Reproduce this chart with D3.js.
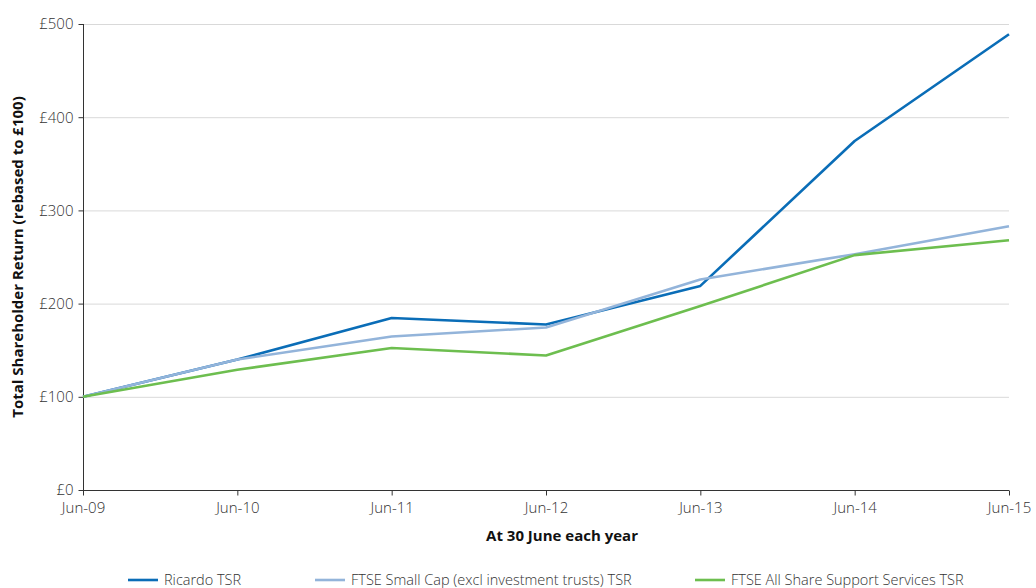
<!DOCTYPE html>
<html><head><meta charset="utf-8">
<script src="https://cdnjs.cloudflare.com/ajax/libs/d3/7.8.5/d3.min.js"></script>
<style>body{margin:0;background:#fff;} svg{display:block;font-family:"Open Sans",sans-serif;}</style>
</head><body><svg id="c" width="1036" height="588"></svg>
<script>
const categories = ["Jun-09","Jun-10","Jun-11","Jun-12","Jun-13","Jun-14","Jun-15"];
const ricardo = [100, 140, 184.5, 177.6, 219, 374.5, 489];
const smallCap = [100, 140, 164.7, 174.4, 225.9, 253, 283];
const support = [100, 129, 152.4, 144.3, 197.4, 252, 268];
const yTicks = [0, 100, 200, 300, 400, 500];
const seriesNames = ["Ricardo TSR", "FTSE Small Cap (excl investment trusts) TSR", "FTSE All Share Support Services TSR"];
const colors = ["#0a6db7", "#93b4da", "#6dbe4f"];

const svg = d3.select("#c");
const m = {l:83, r:1009, t:24, b:490};
const x = d3.scalePoint().domain(categories).range([m.l, m.r]);
const y = d3.scaleLinear().domain([0,500]).range([m.b, m.t]);

// gridlines
svg.append("g").selectAll("line").data(yTicks.filter(d=>d>0)).join("line")
  .attr("x1", m.l).attr("x2", m.r).attr("y1", d=>y(d)+0.5).attr("y2", d=>y(d)+0.5)
  .attr("stroke", "#d9d9d9").attr("stroke-width", 1);

// y axis
const ya = svg.append("g").attr("transform", `translate(${m.l+0.5},0)`)
  .call(d3.axisLeft(y).tickValues(yTicks).tickSize(5).tickPadding(5).tickFormat(d=>"£"+d));
ya.select(".domain").attr("stroke","#333").attr("d", `M0,${m.t}V${m.b}`);
ya.selectAll(".tick line").attr("stroke","#333");
ya.selectAll("text").attr("font-size", 15).attr("fill","#333").attr("font-family","Open Sans").attr("font-weight", 300);

// x axis
const xa = svg.append("g").attr("transform", `translate(0,${m.b+0.5})`)
  .call(d3.axisBottom(x).tickSize(5).tickPadding(7));
xa.select(".domain").attr("stroke","#333").attr("d", `M${m.l},0H${m.r}`);
xa.selectAll(".tick line").attr("stroke","#333");
xa.selectAll("text").attr("font-size", 15).attr("fill","#333").attr("font-family","Open Sans").attr("font-weight", 300);

// lines
const line = d3.line().x((d,i)=>x(categories[i])).y(d=>y(d));
[ricardo, smallCap, support].forEach((s,i)=>{
  svg.append("path").datum(s).attr("d", line).attr("fill","none")
    .attr("stroke", colors[i]).attr("stroke-width", 2.6).attr("stroke-linejoin","round");
});

// titles
svg.append("text").attr("x", 562).attr("y", 541).attr("text-anchor","middle")
  .attr("font-weight","bold").attr("font-size", 15).attr("fill","#111").text("At 30 June each year");
svg.append("text").attr("transform", "translate(23,257) rotate(-90)").attr("text-anchor","middle")
  .attr("font-weight","bold").attr("font-size", 15).attr("fill","#111").text("Total Shareholder Return (rebased to £100)");

// legend
const legX = [128, 315, 695];
seriesNames.forEach((n,i)=>{
  const g = svg.append("g").attr("transform", `translate(${legX[i]},580)`);
  g.append("line").attr("x1",0).attr("x2",30).attr("y1",0).attr("y2",0).attr("stroke",colors[i]).attr("stroke-width",2.6);
  g.append("text").attr("x",36).attr("y",5).attr("font-size",14.5).attr("font-weight",300).attr("fill","#333").text(n);
});
</script></body></html>
